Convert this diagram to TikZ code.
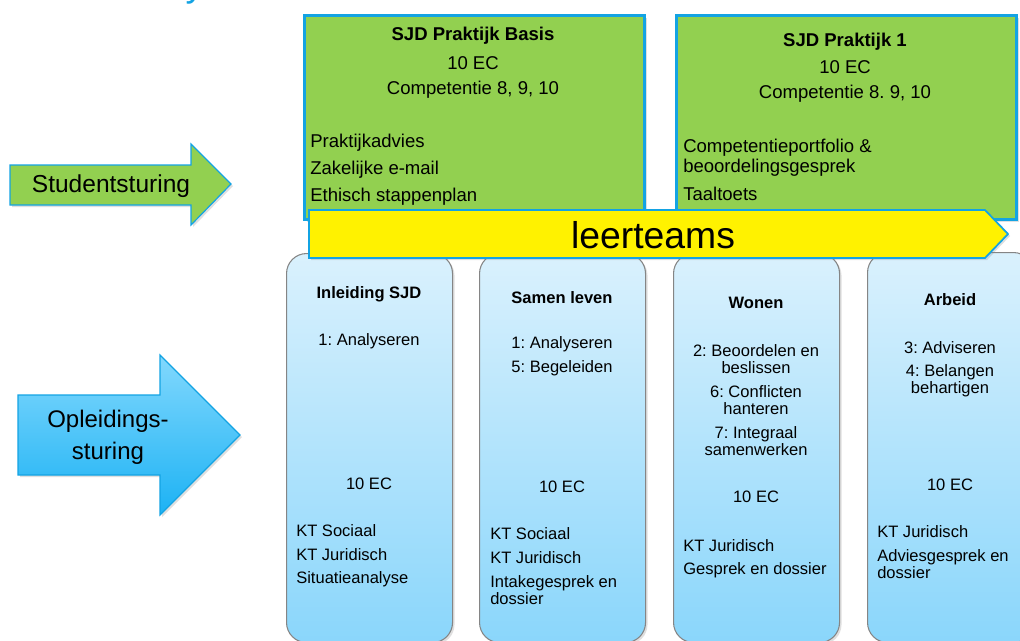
\documentclass[tikz,border=0pt]{standalone}
\usepackage{fontspec}
\setmainfont{Liberation Sans}
\frenchspacing
\usetikzlibrary{shadows}
\definecolor{grn}{HTML}{92D050}
\definecolor{bord}{HTML}{13A3E3}
\definecolor{ltop}{HTML}{DAF1FD}
\definecolor{lbot}{HTML}{8AD6FB}
\definecolor{atop}{HTML}{82D8FD}
\definecolor{abot}{HTML}{1CB2F4}
\definecolor{gbord}{HTML}{858585}
\tikzset{
  colbox/.style={draw=gbord, line width=0.8pt, rounded corners=15pt, top color=ltop, bottom color=lbot,
    drop shadow={opacity=0.25, shadow xshift=1.5pt, shadow yshift=-1.5pt}},
  grnbox/.style={draw=bord, line width=2.3pt, fill=grn,
    drop shadow={opacity=0.25, shadow xshift=1.5pt, shadow yshift=-1.5pt}},
  bt/.style={font=\fontsize{12.4}{12.8}\selectfont, align=center, inner sep=0pt, yshift=-0.75pt},
  btb/.style={bt, font=\fontsize{12.4}{12.8}\selectfont\bfseries},
  btl/.style={bt, align=left, anchor=west},
  gt/.style={font=\fontsize{13.9}{15}\selectfont, align=center, inner sep=0pt, yshift=-1.5pt},
  gtb/.style={gt, font=\fontsize{13.9}{15}\selectfont\bfseries},
  gtl/.style={gt, align=left, anchor=west},
  bigarrow/.style={line width=0.9pt, drop shadow={opacity=0.25, shadow xshift=1.5pt, shadow yshift=-1.5pt}}
}
\begin{document}
\begin{tikzpicture}[x=0.75pt,y=-0.75pt]
\useasboundingbox (0,0) rectangle (1020,640);
\clip (0,0) rectangle (1020,640);

% cut-off title fragment
\node[anchor=base, inner sep=0pt, text=bord, font=\fontsize{28}{30}\selectfont] (ttl) at (195,-4) {y};

% arrows
\draw[bigarrow, draw=bord, fill=grn] (10,165) -- (191,165) -- (191,144) -- (231,184) -- (191,225) -- (191,205) -- (10,205) -- cycle;
\node[font=\fontsize{18.4}{20}\selectfont, inner sep=0pt] (stud) at (111,186) {Studentsturing};

\draw[bigarrow, draw=bord, top color=atop, bottom color=abot] (18,395) -- (160,395) -- (160,355) -- (240,435) -- (160,515) -- (160,475) -- (18,475) -- cycle;
\node[font=\fontsize{18}{24}\selectfont, align=center, inner sep=0pt] (opl) at (108,437) {Opleidings-\\sturing};

% column boxes
\node[colbox, minimum width=166*0.75pt, minimum height=389*0.75pt, anchor=north west, inner sep=0pt] (c1) at (286,253) {};
\node[colbox, minimum width=166*0.75pt, minimum height=389*0.75pt, anchor=north west, inner sep=0pt] (c2) at (479,253) {};
\node[colbox, minimum width=166*0.75pt, minimum height=389*0.75pt, anchor=north west, inner sep=0pt] (c3) at (673,253) {};
\node[colbox, minimum width=166*0.75pt, minimum height=390*0.75pt, anchor=north west, inner sep=0pt] (c4) at (867,252) {};

% column 1
\node[btb] (c1t) at (369,293) {Inleiding SJD};
\node[bt] (c1a) at (369,340) {1: Analyseren};
\node[bt] (c1e) at (369,483) {10 EC};
\node[btl] (c1k1) at (296,530) {KT Sociaal};
\node[btl] (c1k2) at (296,554) {KT Juridisch};
\node[btl] (c1k3) at (296,578) {Situatieanalyse};

% column 2
\node[btb] (c2t) at (562,297) {Samen leven};
\node[bt] (c2a) at (562,343) {1: Analyseren};
\node[bt] (c2b) at (562,367) {5: Begeleiden};
\node[bt] (c2e) at (562,486) {10 EC};
\node[btl] (c2k1) at (490,533) {KT Sociaal};
\node[btl] (c2k2) at (490,557) {KT Juridisch};
\node[btl] (c2k3) at (490,589.5) {Intakegesprek en\\dossier};

% column 3
\node[btb] (c3t) at (756,302) {Wonen};
\node[bt] (c3a) at (756,358.5) {2: Beoordelen en\\beslissen};
\node[bt] (c3b) at (756,399.5) {6: Conflicten\\hanteren};
\node[bt] (c3c) at (756,440.5) {7: Integraal\\samenwerken};
\node[bt] (c3e) at (756,496) {10 EC};
\node[btl] (c3k1) at (683,545) {KT Juridisch};
\node[btl] (c3k2) at (683,569) {Gesprek en dossier};

% column 4
\node[btb] (c4t) at (950,299) {Arbeid};
\node[bt] (c4a) at (950,347) {3: Adviseren};
\node[bt] (c4b) at (950,379.5) {4: Belangen\\behartigen};
\node[bt] (c4e) at (950,484) {10 EC};
\node[btl] (c4k1) at (877,531) {KT Juridisch};
\node[btl] (c4k2) at (877,563.5) {Adviesgesprek en\\dossier};

% green boxes
\node[grnbox, minimum width=340*0.75pt, minimum height=204*0.75pt, anchor=north west, inner sep=0pt] (g1) at (303,14) {};
\node[grnbox, minimum width=340*0.75pt, minimum height=204*0.75pt, anchor=north west, inner sep=0pt] (g2) at (675,14) {};

\node[gtb] (g1t) at (473,34) {SJD Praktijk Basis};
\node[gt] (g1e) at (473,61) {10 EC};
\node[gt] (g1c) at (473,88) {Competentie 8, 9, 10};
\node[gtl] (g1p1) at (310,141) {Praktijkadvies};
\node[gtl] (g1p2) at (310,168) {Zakelijke e-mail};
\node[gtl] (g1p3) at (310,195) {Ethisch stappenplan};

\node[gtb] (g2t) at (845,40) {SJD Praktijk 1};
\node[gt] (g2e) at (845,65) {10 EC};
\node[gt] (g2c) at (845,92) {Competentie 8. 9, 10};
\node[gtl] (g2p1) at (683,156) {Competentieportfolio \&\\beoordelingsgesprek};
\node[gtl] (g2p2) at (683,192) {Taaltoets};

% leerteams banner
\draw[draw=bord, line width=1.3pt, fill=yellow, drop shadow={opacity=0.25, shadow xshift=1.5pt, shadow yshift=-1.5pt}]
  (309,210) -- (985,210) -- (1008,234) -- (985,258) -- (309,258) -- cycle;
\node[font=\fontsize{28}{30}\selectfont, inner sep=0pt] (lt) at (653,235) {leerteams};
\end{tikzpicture}
\end{document}
